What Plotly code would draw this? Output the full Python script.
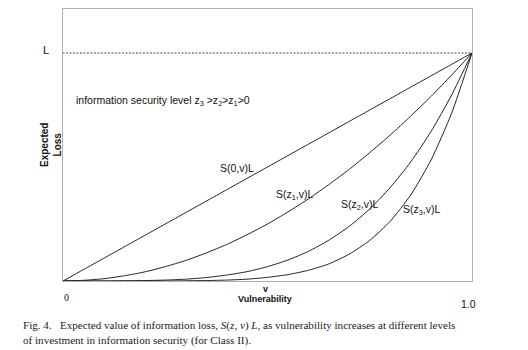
import plotly.graph_objects as go

# Data (v on [0,1], expected loss as fraction of L)
v = [0, 0.05, 0.1, 0.15, 0.2, 0.25, 0.3, 0.35, 0.4, 0.45, 0.5,
     0.55, 0.6, 0.65, 0.7, 0.75, 0.8, 0.85, 0.9, 0.95, 1.0]
s_0 = [0, 0.05, 0.1, 0.15, 0.2, 0.25, 0.3, 0.35, 0.4, 0.45, 0.5,
       0.55, 0.6, 0.65, 0.7, 0.75, 0.8, 0.85, 0.9, 0.95, 1.0]
s_z1 = [0, 0.003, 0.010, 0.023, 0.040, 0.063, 0.090, 0.123, 0.160, 0.203, 0.250,
        0.303, 0.360, 0.423, 0.490, 0.563, 0.640, 0.723, 0.810, 0.903, 1.0]
s_z2 = [0, 0.000, 0.000, 0.001, 0.002, 0.004, 0.008, 0.015, 0.026, 0.041, 0.063,
        0.092, 0.130, 0.179, 0.240, 0.316, 0.410, 0.522, 0.656, 0.815, 1.0]
s_z3 = [0, 0.000, 0.000, 0.000, 0.000, 0.000, 0.001, 0.002, 0.004, 0.008, 0.016,
        0.028, 0.047, 0.075, 0.118, 0.178, 0.262, 0.377, 0.531, 0.735, 1.0]
series = [s_0, s_z1, s_z2, s_z3]
L_level = 1.0
y_max = 1.193

fig = go.Figure()
for s in series:
    fig.add_trace(go.Scatter(x=v, y=s, mode="lines",
                             line=dict(color="#222222", width=1, shape="spline", smoothing=0.6),
                             showlegend=False, hoverinfo="skip"))

# dashed L line
fig.add_shape(type="line", xref="x", yref="y", x0=-0.01, x1=1.012, y0=L_level, y1=L_level,
              line=dict(color="#444444", width=1, dash="2px,1.5px"))

L0, T0, W, H = 63, 9, 409, 272


def px(xp, yp):
    return (xp - L0) / W, (T0 + H - yp) / H


sans = "Liberation Sans, Arial, sans-serif"
serif = "Liberation Serif, Times New Roman, serif"


def ann(text, xp, yp, size=10.5, family=sans, xanchor="left", yanchor="middle", color="#111111", angle=0):
    x, y = px(xp, yp)
    fig.add_annotation(text=text, x=x, y=y, xref="paper", yref="paper", showarrow=False,
                       xanchor=xanchor, yanchor=yanchor, textangle=angle,
                       font=dict(size=size, family=family, color=color))


ann("L", 46, 50, size=11, xanchor="center")
ann("information security level z<sub>3</sub> >z<sub>2</sub>>z<sub>1</sub>>0", 74, 101, size=10.5)
ann("S(0,v)L", 218, 168, size=10.5)
ann("S(z<sub>1</sub>,v)L", 274, 195, size=10.5)
ann("S(z<sub>2</sub>,v)L", 339, 205, size=10.5)
ann("S(z<sub>3</sub>,v)L", 401, 210, size=10.5)
ann("0", 66, 297, size=10, family=serif, xanchor="center")
ann("1.0", 468, 304, size=10.5, xanchor="center")
ann("<b>v</b>", 265, 289, size=9, xanchor="center")
ann("<b>Vulnerability</b>", 265, 299, size=9, xanchor="center")
ann("<b>Expected<br>Loss</b>", 51, 145, size=10, xanchor="center", angle=-90)

cap1 = ("Fig. 4.&nbsp;&nbsp;&nbsp;Expected value of information loss, <i>S</i>(<i>z</i>, <i>v</i>)&nbsp;<i>L</i>, "
        "as vulnerability increases at different levels")
cap2 = "of investment in information security (for Class II)."
ann(cap1, 21, 325, size=11.1, family=serif, color="#1a1a2e")
ann(cap2, 21, 340, size=11.1, family=serif, color="#1a1a2e")

axis_common = dict(showgrid=False, zeroline=False, showticklabels=False, ticks="",
                   showline=True, linecolor="#b0b0b0", linewidth=1, mirror=True, fixedrange=True)
fig.update_layout(
    width=528, height=350,
    margin=dict(l=L0, r=528 - L0 - W, t=T0, b=350 - T0 - H),
    paper_bgcolor="white", plot_bgcolor="white",
    xaxis=dict(range=[0, 1], **axis_common),
    yaxis=dict(range=[0, y_max], **axis_common),
    showlegend=False,
)

fig.write_html("out.html")
